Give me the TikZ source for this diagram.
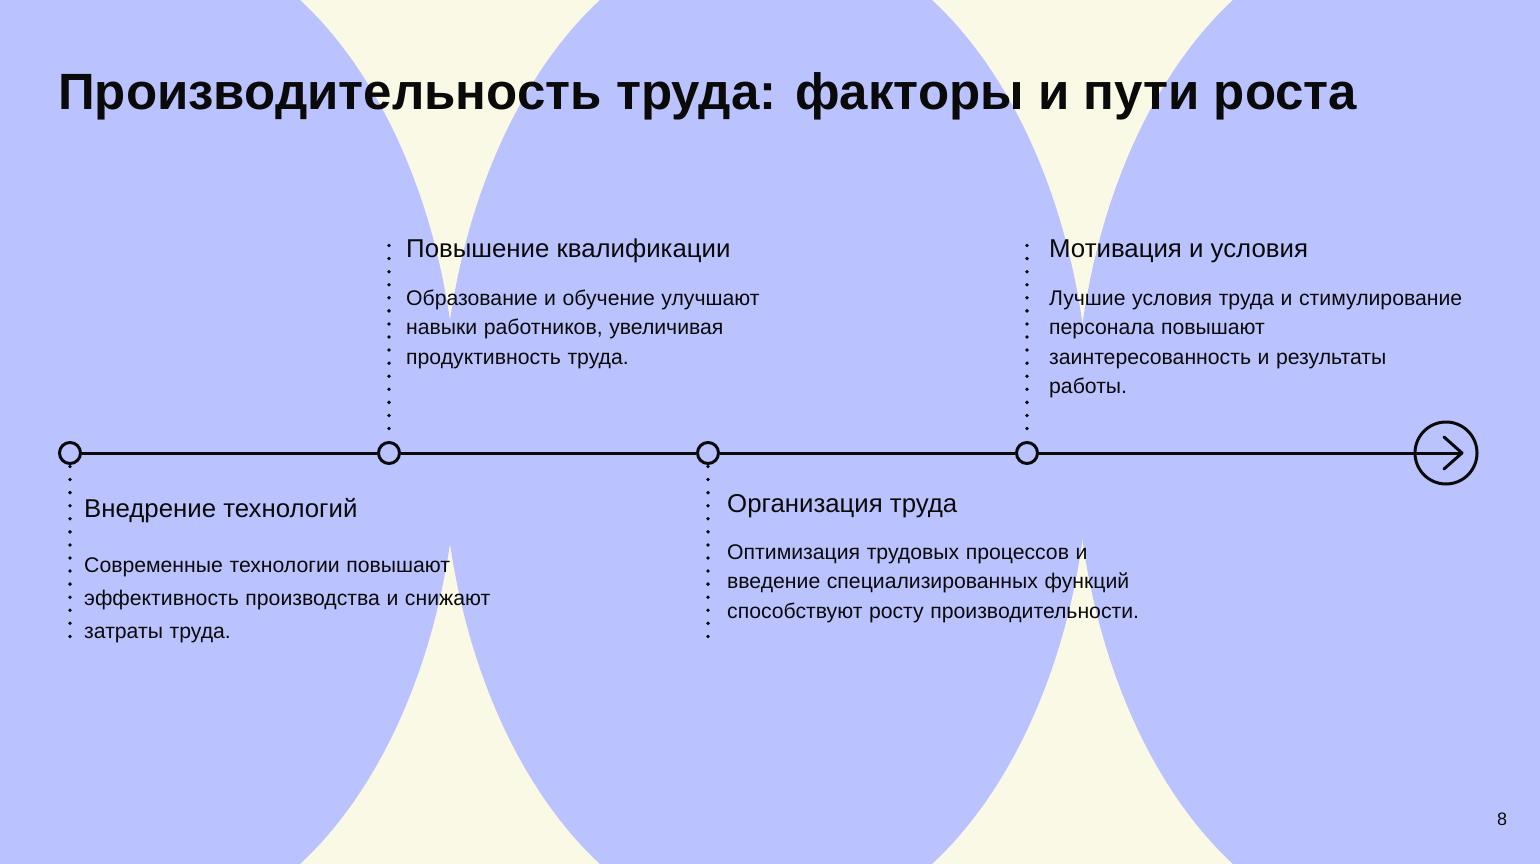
\documentclass[tikz,border=0pt]{standalone}
\usepackage{fontspec}
\setmainfont{Liberation Sans}
\definecolor{lav}{RGB}{187,195,255}
\definecolor{cream}{RGB}{250,249,230}
\definecolor{ink}{RGB}{10,10,10}
\newcommand{\bodyfont}[1]{\fontsize{21.2}{#1}\selectfont\spaceskip=6.6pt\relax}
\begin{document}
\begin{tikzpicture}[x=1pt,y=-1pt,
  blob/.style={fill=lav},
  dotnode/.style={circle,draw=ink,line width=3pt,fill=lav,minimum size=21pt,inner sep=0pt},
  axis/.style={draw=ink,line width=3pt},
  dotline/.style={draw=ink,line width=3.8pt,line cap=round,dash pattern=on 0pt off 13.07pt},
  head/.style={anchor=base west,inner sep=0pt,font=\fontsize{25.8}{30}\selectfont,text=ink},
  body/.style={anchor=base west,inner sep=0pt,align=left,text=ink},
]
\useasboundingbox (0,0) rectangle (1540,864);
\fill[cream] (0,0) rectangle (1540,864);
\begin{scope}
\clip (0,0) rectangle (1540,864);
\path[blob] (134,432) ellipse [x radius=324pt, y radius=503pt];
\path[blob] (766,432) ellipse [x radius=324pt, y radius=503pt];
\path[blob] (1399,432) ellipse [x radius=324pt, y radius=503pt];
\end{scope}

% title
\node[anchor=base west,inner sep=0pt,font=\fontsize{51}{60}\selectfont\bfseries,text=ink] (title) at (58,110) {Производительность труда: факторы и пути роста};

% timeline
\node[dotnode] (c1) at (70,453) {};
\node[dotnode] (c2) at (389,453) {};
\node[dotnode] (c3) at (708,453) {};
\node[dotnode] (c4) at (1027,453) {};
\node[circle,draw=ink,line width=3pt,minimum size=62pt,inner sep=0pt] (end) at (1446,453) {};
\coordinate (tip) at (1462,453);
\draw[axis] (c1) -- (c2);
\draw[axis] (c2) -- (c3);
\draw[axis] (c3) -- (c4);
\draw[axis] (c4) -- (tip);
\draw[axis,line cap=round,line join=round] (1444,437) -- (tip) -- (1444,469);

% dotted leaders
\coordinate (d1) at (70,649);
\coordinate (d2) at (389,244);
\coordinate (d3) at (708,649);
\coordinate (d4) at (1027,244);
\draw[dotline,shorten <=1.5pt] (c1.south) -- (d1);
\draw[dotline,shorten <=12.5pt] (c2.north) -- (d2);
\draw[dotline,shorten <=1.5pt] (c3.south) -- (d3);
\draw[dotline,shorten <=12.5pt] (c4.north) -- (d4);

% texts (body anchors at the baseline of the last line)
\node[head] (h1) at (84,517) {Внедрение технологий};
\node[body,font=\bodyfont{33}] (b1) at (84,638) {Современные технологии повышают\\эффективность производства и снижают\\затраты труда.};

\node[head] (h2) at (406,257) {Повышение квалификации};
\node[body,font=\bodyfont{29.5}] (b2) at (406,364) {Образование и обучение улучшают\\навыки работников, увеличивая\\продуктивность труда.};

\node[head] (h3) at (727,512) {Организация труда};
\node[body,font=\bodyfont{29.5}] (b3) at (727,618) {Оптимизация трудовых процессов и\\введение специализированных функций\\способствуют росту производительности.};

\node[head] (h4) at (1049,257) {Мотивация и условия};
\node[body,font=\bodyfont{29.5}] (b4) at (1049,393.5) {Лучшие условия труда и стимулирование\\персонала повышают\\заинтересованность и результаты\\работы.};

\node[anchor=base,inner sep=0pt,font=\fontsize{18}{20}\selectfont,text=ink] (pg) at (1502,825) {8};
\end{tikzpicture}
\end{document}
